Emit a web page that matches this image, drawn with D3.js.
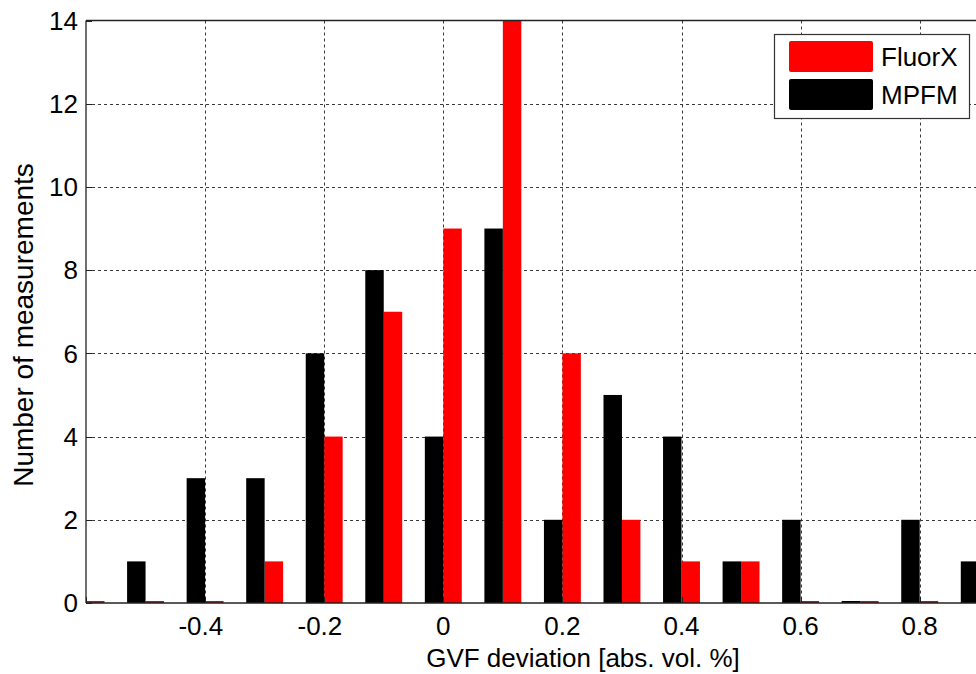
<!DOCTYPE html>
<html>
<head>
<meta charset="utf-8">
<script src="https://cdn.jsdelivr.net/npm/d3@7"></script>
<style>
  body { margin: 0; background: #fff; }
  svg { display: block; }
  text { font-family: Arial, "Liberation Sans", sans-serif; fill: #000; }
</style>
</head>
<body>
<svg id="chart" width="976" height="674"></svg>
<script>
// Histogram bins (centre of each GVF-deviation class, abs. vol. %)
const binCenters = [-0.6, -0.5, -0.4, -0.3, -0.2, -0.1, 0, 0.1, 0.2, 0.3, 0.4, 0.5, 0.6, 0.7, 0.8, 0.9];
// Counts per bin
const fluorX = [0, 0, 0, 1, 4, 7, 9, 14, 6, 2, 1, 1, 0, 0, 0, 0];
const mpfm   = [0, 1, 3, 3, 6, 8, 4, 9, 2, 5, 4, 1, 2, 0, 2, 1];
// Axis ticks
const xTicks = [-0.6, -0.4, -0.2, 0, 0.2, 0.4, 0.6, 0.8];
const yTicks = [0, 2, 4, 6, 8, 10, 12, 14];
const seriesNames = ["FluorX", "MPFM"];
const seriesColors = ["#ff0000", "#000000"];
const zeroEdge = ["#b01818", "#000000"];

const svg = d3.select("#chart");
const W = 976, H = 674;
const plotLeft = 86, plotTop = 20.5, plotBottom = 603;

const x = d3.scaleLinear().domain([-0.6, 1.0]).range([plotLeft, plotLeft + 1.6 * 595.5]);
const y = d3.scaleLinear().domain([0, 14]).range([plotBottom, plotTop]);
const barW = 0.031; // width of one bar in data units

svg.append("rect").attr("width", W).attr("height", H).attr("fill", "#fff");

svg.append("defs").append("clipPath").attr("id", "plotClip")
  .append("rect").attr("x", plotLeft).attr("y", plotTop - 2)
  .attr("width", x.range()[1] - plotLeft).attr("height", plotBottom - plotTop + 4);

// Dashed grid
const grid = svg.append("g").attr("stroke", "#3a3a3a").attr("stroke-width", 1)
  .attr("stroke-dasharray", "3,3").attr("fill", "none");
grid.selectAll(".gx").data(xTicks.filter(d => d > -0.6)).join("line")
  .attr("x1", d => Math.round(x(d)) + 0.5).attr("x2", d => Math.round(x(d)) + 0.5)
  .attr("y1", plotTop).attr("y2", plotBottom);
grid.selectAll(".gy").data(yTicks.filter(d => d > 0 && d < 14)).join("line")
  .attr("x1", plotLeft).attr("x2", x.range()[1])
  .attr("y1", d => Math.round(y(d)) + 0.5).attr("y2", d => Math.round(y(d)) + 0.5);

// Grouped bars: MPFM on the left of each bin centre, FluorX on the right
const bars = svg.append("g").attr("clip-path", "url(#plotClip)");
const series = [
  { name: seriesNames[0], values: fluorX, color: seriesColors[0], edge: zeroEdge[0], offset: 0 },
  { name: seriesNames[1], values: mpfm, color: seriesColors[1], edge: zeroEdge[1], offset: -barW }
];
series.forEach(s => {
  bars.selectAll(null).data(binCenters.map((c, i) => ({ c, v: s.values[i] }))).join("rect")
    .attr("x", d => x(d.c + s.offset))
    .attr("width", d => x(d.c + s.offset + barW) - x(d.c + s.offset))
    .attr("y", d => d.v > 0 ? y(d.v) : plotBottom - 2)
    .attr("height", d => d.v > 0 ? plotBottom - y(d.v) : 2)
    .attr("fill", d => d.v > 0 ? s.color : s.edge);
});

// Axes box (left, top, bottom)
const ax = svg.append("g").attr("stroke", "#222").attr("stroke-width", 1.3).attr("fill", "none");
ax.append("line").attr("x1", plotLeft).attr("x2", plotLeft).attr("y1", plotTop).attr("y2", plotBottom);
ax.append("line").attr("x1", plotLeft).attr("x2", W).attr("y1", plotTop).attr("y2", plotTop);
ax.append("line").attr("x1", plotLeft).attr("x2", W).attr("y1", plotBottom).attr("y2", plotBottom);

// Inward tick marks
const tk = svg.append("g").attr("stroke", "#222").attr("stroke-width", 1);
tk.selectAll(".ty").data(yTicks).join("line")
  .attr("x1", plotLeft).attr("x2", plotLeft + 6)
  .attr("y1", d => Math.round(y(d)) + 0.5).attr("y2", d => Math.round(y(d)) + 0.5);
tk.selectAll(".tx").data(xTicks).join("line")
  .attr("x1", d => Math.round(x(d)) + 0.5).attr("x2", d => Math.round(x(d)) + 0.5)
  .attr("y1", plotBottom).attr("y2", plotBottom - 6);

// Tick labels
const fmt = d => d === 0 ? "0" : d3.format("")(+d.toFixed(1)).replace("−", "-");
svg.append("g").selectAll("text").data(yTicks).join("text")
  .attr("x", plotLeft - 8).attr("y", d => y(d) + 9.3)
  .attr("text-anchor", "end").attr("font-size", 26).text(d => d);
svg.append("g").selectAll("text").data(xTicks.filter(d => d > -0.6)).join("text")
  .attr("x", d => x(d)).attr("dx", d => d < 0 ? -4.3 : 0).attr("y", 634.5)
  .attr("text-anchor", "middle").attr("font-size", 26).text(fmt);

// Axis titles
svg.append("text").attr("x", 583).attr("y", 667).attr("text-anchor", "middle")
  .attr("font-size", 26).text("GVF deviation [abs. vol. %]");
svg.append("text").attr("transform", "translate(33,325) rotate(-90)")
  .attr("text-anchor", "middle").attr("font-size", 28).text("Number of measurements");

// Legend
const lg = svg.append("g");
lg.append("rect").attr("x", 774.5).attr("y", 34.5).attr("width", 195).attr("height", 84)
  .attr("fill", "#fff").attr("stroke", "#333").attr("stroke-width", 1.2);
series.forEach((s, i) => {
  lg.append("rect").attr("x", 789).attr("y", 41 + i * 38).attr("width", 84).attr("height", 31)
    .attr("rx", 2).attr("fill", s.color);
  lg.append("text").attr("x", 881).attr("y", 65.5 + i * 38).attr("font-size", 26).text(s.name);
});
</script>
</body>
</html>
